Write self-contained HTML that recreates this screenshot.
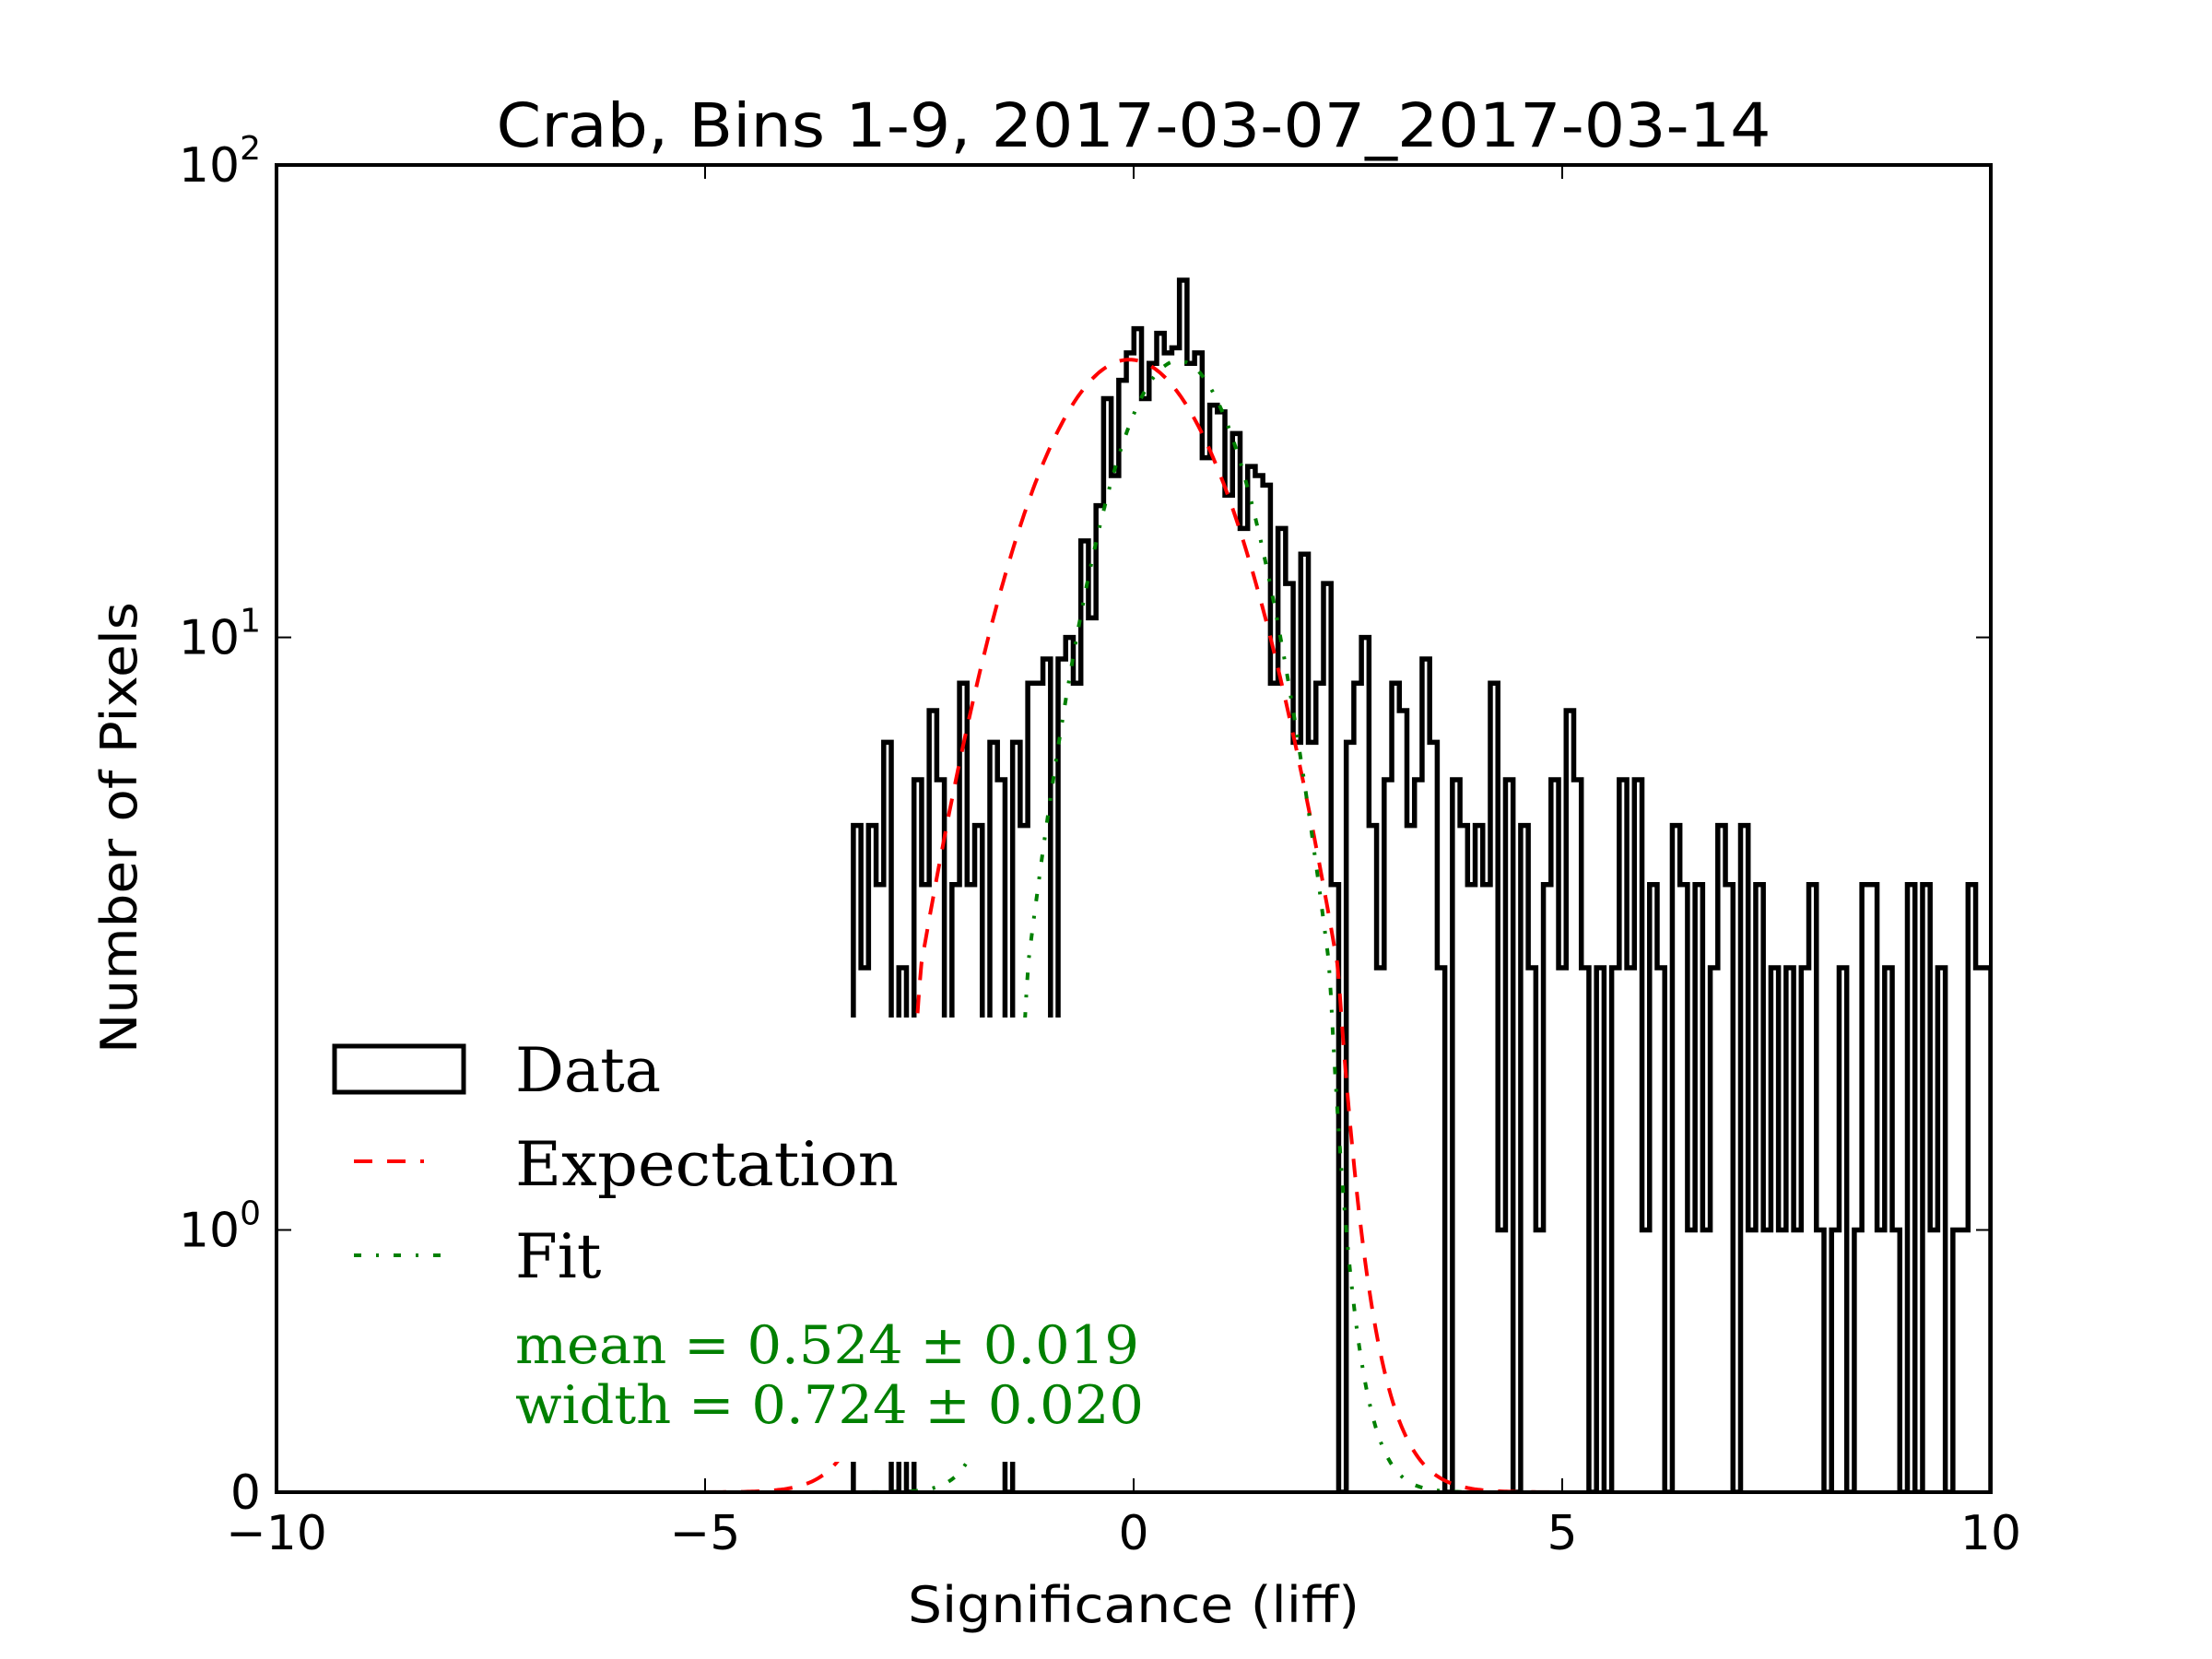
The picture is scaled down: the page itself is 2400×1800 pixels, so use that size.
<!DOCTYPE html>
<html><head><meta charset="utf-8"><style>
html,body{margin:0;padding:0;background:#fff;}
svg{display:block;}
</style></head><body>
<svg id="chart" width="2400" height="1800" viewBox="0 0 2400 1800" xmlns="http://www.w3.org/2000/svg">
<rect x="0" y="0" width="2400" height="1800" fill="#fff"/>
<defs><clipPath id="plotclip"><rect x="300" y="179" width="1860" height="1440"/></clipPath></defs>
<text x="1230" y="159" text-anchor="middle" font-family="DejaVu Sans, Liberation Sans, sans-serif" font-size="66" textLength="1383" lengthAdjust="spacingAndGlyphs">Crab, Bins 1-9, 2017-03-07_2017-03-14</text>
<g id="marks" clip-path="url(#plotclip)"></g>
<g id="legend">
<rect x="338" y="1104" width="912" height="482" fill="#fff"/>
<rect x="363" y="1135" width="140" height="50" fill="none" stroke="#000" stroke-width="5"/>
<text x="559" y="1184" font-family="DejaVu Serif, Liberation Serif, serif" font-size="66">Data</text>
<line x1="384" y1="1260" x2="460" y2="1260" stroke="#f00" stroke-width="4" stroke-dasharray="20,16"/>
<text x="559" y="1286" font-family="DejaVu Serif, Liberation Serif, serif" font-size="66" textLength="416" lengthAdjust="spacingAndGlyphs">Expectation</text>
<line x1="384" y1="1362" x2="486" y2="1362" stroke="#008000" stroke-width="4" stroke-dasharray="8,16,3,16"/>
<text x="559" y="1386" font-family="DejaVu Serif, Liberation Serif, serif" font-size="66">Fit</text>
<text x="559" y="1479" fill="#008000" font-family="DejaVu Serif, Liberation Serif, serif" font-size="57" textLength="677" lengthAdjust="spacingAndGlyphs">mean = 0.524 ± 0.019</text>
<text x="559" y="1544" fill="#008000" font-family="DejaVu Serif, Liberation Serif, serif" font-size="57" textLength="682" lengthAdjust="spacingAndGlyphs">width = 0.724 ± 0.020</text>
</g>
<rect x="300" y="179" width="1860" height="1440" fill="none" stroke="#000" stroke-width="4"/>
<g id="axes"></g>
<text x="1230" y="1760" text-anchor="middle" font-family="DejaVu Sans, Liberation Sans, sans-serif" font-size="54" textLength="490" lengthAdjust="spacingAndGlyphs">Significance (liff)</text>
<text x="0" y="0" transform="translate(148,898) rotate(-90)" text-anchor="middle" font-family="DejaVu Sans, Liberation Sans, sans-serif" font-size="54" textLength="490" lengthAdjust="spacingAndGlyphs">Number of Pixels</text>
</svg>
<script>
var binStart = -3.27;
var binEnd = 10.0;
var counts = [4,2,4,3,6,0,2,0,5,3,7,5,1,3,8,3,4,1,6,5,0,6,4,8,8,9,1,9,10,8,16,11,19,32,22,35,40,
45,32,38,44,40,41,57,38,40,24,31,30,20,27,17,23,22,21,8,17,13,6,15,6,8,13,3,0,6,8,10,4,2,5,8,7,
4,5,9,6,2,0,5,4,3,4,3,8,1,5,0,4,2,1,3,5,2,7,5,2,0,2,0,2,5,2,5,1,3,2,0,4,3,1,
3,1,2,4,3,0,4,1,3,1,2,1,2,1,2,3,1,0,1,2,0,1,3,3,1,2,1,0,3,0,3,1,2,0,1,1,3,2,2];
var xTicks = [-10,-5,0,5,10];
var xTickLabels = ["\u221210","\u22125","0","5","10"];
var yTicks = [0,1,10,100];
var yTickExp = ["","0","1","2"];
var expectParams = [38.7,-0.05,1.0];   // amplitude, mean, width
var fitParams = [38.5,0.524,0.724];    // amplitude, mean, width

var SVGNS="http://www.w3.org/2000/svg";
function xs(v){return 300+(v+10)*93;}
function ys(v){ if(v<=2) return 1619-v*284.5; return 1050-512.8*Math.log10(v/2);}
var marks=document.getElementById('marks');
var axes=document.getElementById('axes');

function gauss(p,x){return p[0]*Math.exp(-(x-p[1])*(x-p[1])/(2*p[2]*p[2]));}
function curve(p,color,dash,name){
  var d="";
  for(var i=0;i<=800;i++){var x=-10+i*20/800;var y=ys(gauss(p,x));d+=(i?"L":"M")+xs(x).toFixed(1)+" "+y.toFixed(1);}
  var el=document.createElementNS(SVGNS,'path');
  el.setAttribute('d',d);el.setAttribute('fill','none');el.setAttribute('stroke',color);
  el.setAttribute('stroke-width','4');el.setAttribute('stroke-dasharray',dash);
  
  
  marks.appendChild(el);
}

var bw=(binEnd-binStart)/counts.length;
var d="M"+xs(binStart)+" "+ys(0);
for(var i=0;i<counts.length;i++){
  var x0=xs(binStart+i*bw),x1=xs(binStart+(i+1)*bw),y=ys(counts[i]);
  d+="L"+x0.toFixed(2)+" "+y.toFixed(2)+"L"+x1.toFixed(2)+" "+y.toFixed(2);
}
d+="L"+xs(binEnd)+" "+ys(0);
var h=document.createElementNS(SVGNS,'path');
h.setAttribute('d',d);h.setAttribute('fill','none');h.setAttribute('stroke','#000');h.setAttribute('stroke-width','5.5');


marks.appendChild(h);
curve(expectParams,'#f00','20,16','expectation-curve');
curve(fitParams,'#008000','8,16,3,16','fit-curve');

function mk(tag,attrs){var e=document.createElementNS(SVGNS,tag);for(var k in attrs)e.setAttribute(k,attrs[k]);return e;}
xTicks.forEach(function(t,i){
  var x=xs(t);
  var a=mk('line',{x1:x,y1:1619,x2:x,y2:1604,stroke:'#000','stroke-width':2});
  
  
  axes.appendChild(a);
  var b=mk('line',{x1:x,y1:179,x2:x,y2:194,stroke:'#000','stroke-width':2});
  
  
  axes.appendChild(b);
  var tx=mk('text',{x:x,y:1681,'text-anchor':'middle','font-family':'DejaVu Sans, Liberation Sans, sans-serif','font-size':52});
  tx.textContent=xTickLabels[i];
  
  
  axes.appendChild(tx);
});
yTicks.forEach(function(t,i){
  var y=ys(t);
  var a=mk('line',{x1:300,y1:y,x2:316,y2:y,stroke:'#000','stroke-width':2});
  
  
  axes.appendChild(a);
  var b=mk('line',{x1:2160,y1:y,x2:2144,y2:y,stroke:'#000','stroke-width':2});
  
  
  axes.appendChild(b);
  var tx=mk('text',{x:283,y:y+18,'text-anchor':'end','font-family':'DejaVu Sans, Liberation Sans, sans-serif','font-size':52});
  if(yTickExp[i]===""){tx.textContent="0";}
  else{
    tx.textContent="10";
    var s=mk('tspan',{'font-size':36,dy:-24});s.textContent=yTickExp[i];tx.appendChild(s);
  }
  
  
  axes.appendChild(tx);
});
</script>
</body></html>
